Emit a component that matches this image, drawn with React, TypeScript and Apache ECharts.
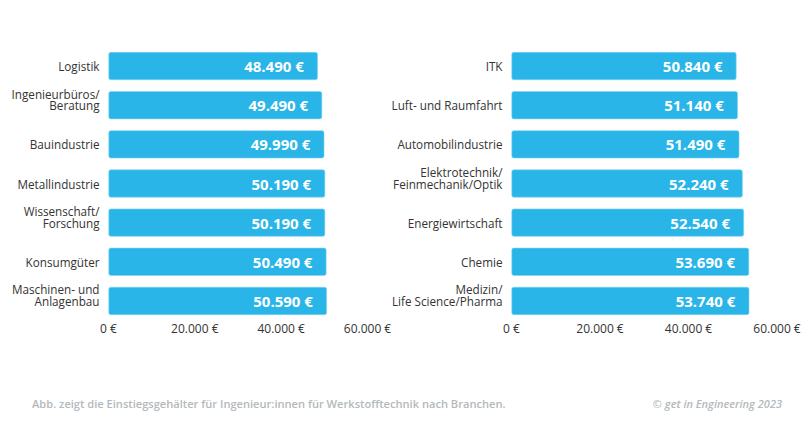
import React, { useEffect, useRef } from "react";
import * as echarts from "echarts";

const leftCategories = [
  "Logistik",
  "Ingenieurbüros/\nBeratung",
  "Bauindustrie",
  "Metallindustrie",
  "Wissenschaft/\nForschung",
  "Konsumgüter",
  "Maschinen- und\nAnlagenbau",
];
const leftValues = [48490, 49490, 49990, 50190, 50190, 50490, 50590];

const rightCategories = [
  "ITK",
  "Luft- und Raumfahrt",
  "Automobilindustrie",
  "Elektrotechnik/\nFeinmechanik/Optik",
  "Energiewirtschaft",
  "Chemie",
  "Medizin/\nLife Science/Pharma",
];
const rightValues = [50840, 51140, 51490, 52240, 52540, 53690, 53740];

const xTicks = [0, 20000, 40000, 60000];

const footerLeft =
  "Abb. zeigt die Einstiegsgehälter für Ingenieur:innen für Werkstofftechnik nach Branchen.";
const footerRight = "© get in Engineering 2023";

const FONT = "'Open Sans', sans-serif";
const BAR = "#29b5e8";
const LINE_H = 11.5;

const fmt = (v: number) =>
  v.toString().replace(/\B(?=(\d{3})+(?!\d))/g, ".") + " €";

export default function App() {
  const ref = useRef<HTMLDivElement>(null);
  useEffect(() => {
    if (!ref.current) return;
    const chart = echarts.init(ref.current, undefined, { renderer: "svg" });
    const xAxisBase = (gridIndex: number) => ({
      type: "value",
      gridIndex,
      min: xTicks[0],
      max: xTicks[xTicks.length - 1],
      interval: 20000,
      axisLine: { show: false },
      axisTick: { show: false },
      splitLine: { show: false },
      axisLabel: {
        formatter: (v: number) => fmt(v),
        color: "#333",
        fontSize: 12,
        fontFamily: FONT,
        margin: 2,
      },
    });
    const yAxisBase = (gridIndex: number, data: string[]) => ({
      type: "category",
      gridIndex,
      data,
      inverse: true,
      axisLine: { show: false },
      axisTick: { show: false },
      splitLine: { show: false },
      axisLabel: {
        color: "#333",
        fontSize: 11.7,
        fontFamily: FONT,
        lineHeight: LINE_H,
        margin: 9,
        align: "right",
        formatter: (v: string) =>
          v.includes("\n")
            ? v
                .split("\n")
                .map((s) => `{t|${s}}`)
                .join("\n") + "\n{sp| }"
            : v,
        rich: {
          t: {
            color: "#333",
            fontSize: 11.7,
            fontFamily: FONT,
            lineHeight: LINE_H,
            align: "right",
          },
          sp: { fontSize: 1, lineHeight: LINE_H, height: LINE_H },
        },
      },
    });
    const seriesBase = (i: number, data: number[]) => ({
      type: "bar",
      xAxisIndex: i,
      yAxisIndex: i,
      data,
      barWidth: 28,
      itemStyle: {
        color: BAR,
        borderRadius: 2,
        borderColor: "#7fd3f2",
        borderWidth: 0.6,
      },
      label: {
        show: true,
        position: "insideRight",
        distance: 14,
        color: "#fff",
        fontWeight: "bold",
        fontSize: 15,
        fontFamily: FONT,
        formatter: (p: any) => fmt(p.value),
      },
    });
    chart.setOption({
      animation: false,
      textStyle: { fontFamily: FONT },
      grid: [
        { left: 108.5, width: 259, top: 46.5, height: 274 },
        { left: 511.5, width: 265.5, top: 46.5, height: 274 },
      ],
      xAxis: [xAxisBase(0), xAxisBase(1)],
      yAxis: [yAxisBase(0, leftCategories), yAxisBase(1, rightCategories)],
      series: [seriesBase(0, leftValues), seriesBase(1, rightValues)],
      graphic: [
        {
          type: "text",
          left: 32,
          top: 398,
          style: {
            text: footerLeft,
            fill: "#b4b9bc",
            font: `600 11.1px ${FONT}`,
          },
        },
        {
          type: "text",
          right: 24,
          top: 398,
          style: {
            text: footerRight,
            fill: "#b4b9bc",
            font: `italic 600 11px ${FONT}`,
          },
        },
      ],
    });
    return () => chart.dispose();
  }, []);
  return (
    <div
      ref={ref}
      style={{ position: "fixed", left: 0, top: 0, width: 806, height: 423, background: "#fff" }}
    />
  );
}
